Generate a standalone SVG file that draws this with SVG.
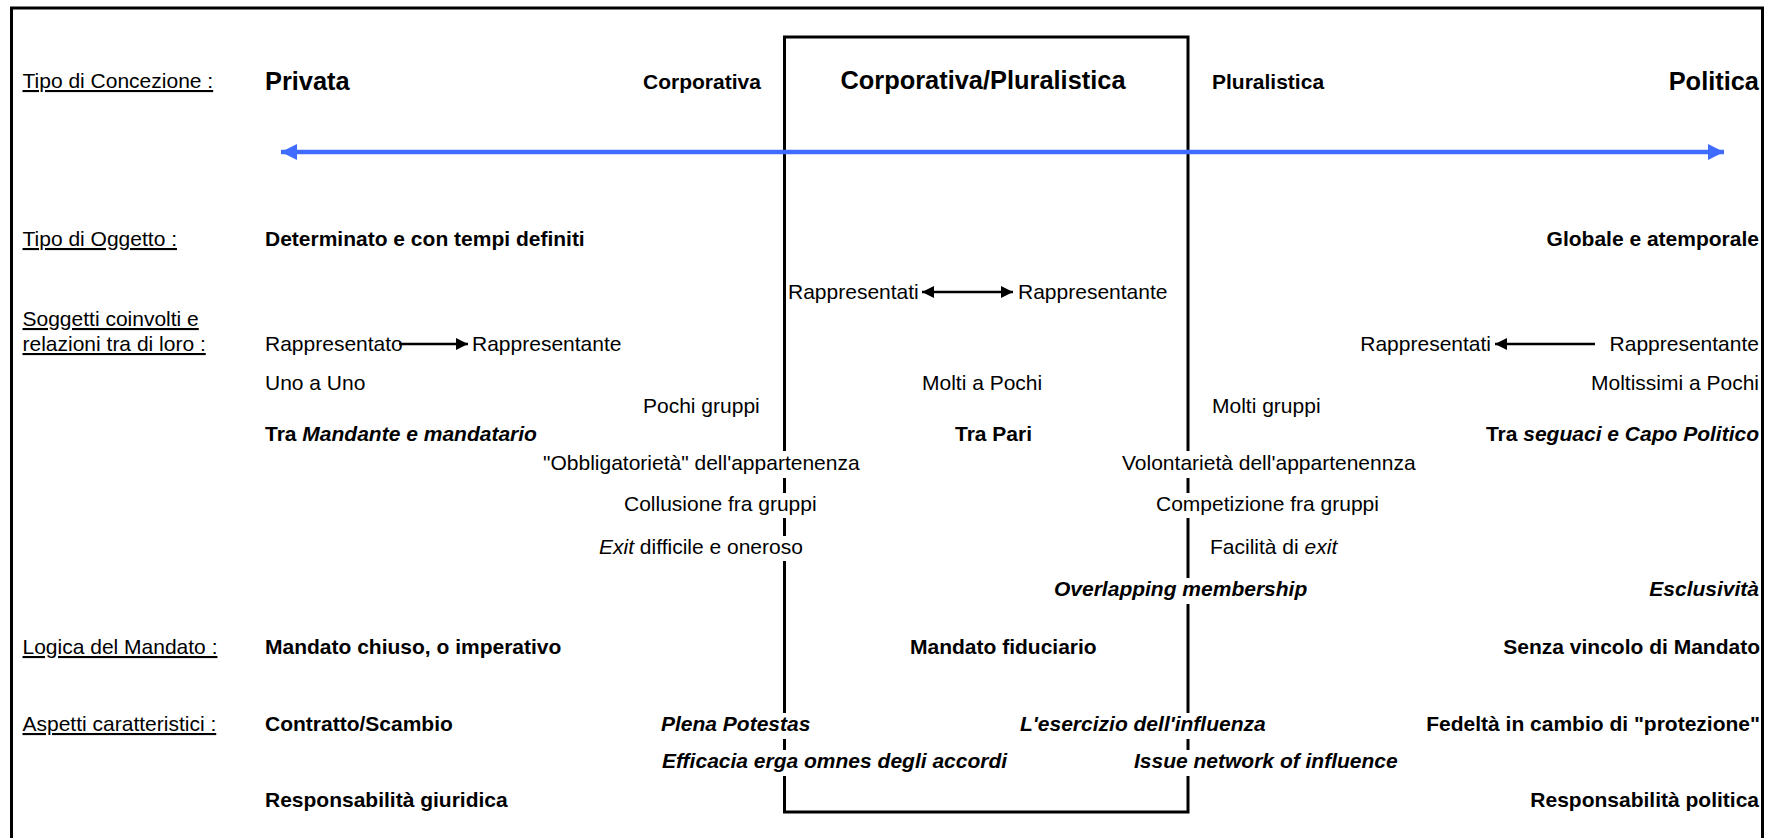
<svg xmlns="http://www.w3.org/2000/svg" width="1767" height="838" viewBox="0 0 1767 838">
<style>
text{font-family:'Liberation Sans',Arial,sans-serif;font-size:21px;fill:#000}
.b{font-weight:bold}
.i{font-style:italic}
.u{text-decoration:underline}
.big{font-size:25.4px;font-weight:bold}
.e{text-anchor:end}
.gap{fill:#fff;stroke:none}
.ln{stroke:#000;stroke-width:2.3;fill:none}
</style>
<defs>
<marker id="ab" viewBox="0 0 10 10" refX="10" refY="5" markerWidth="13" markerHeight="12" markerUnits="userSpaceOnUse" orient="auto-start-reverse"><path d="M0,0 L10,5 L0,10 Z" fill="#000"/></marker>
<marker id="abl" viewBox="0 0 10 10" refX="10" refY="5" markerWidth="16" markerHeight="16" markerUnits="userSpaceOnUse" orient="auto-start-reverse"><path d="M0,0 L10,5 L0,10 Z" fill="#3F6BFF"/></marker>
</defs>
<rect x="0" y="0" width="1767" height="838" fill="#fff"/>
<rect id="border" x="11.5" y="8" width="1751" height="845" fill="none" stroke="#000" stroke-width="3"/>
<g id="box">
<rect x="784.5" y="37" width="403.5" height="775" fill="none" stroke="#000" stroke-width="3"/>
<rect class="gap" x="778" y="451" width="13" height="27"/>
<rect class="gap" x="778" y="493" width="13" height="25"/>
<rect class="gap" x="778" y="536" width="13" height="25"/>
<rect class="gap" x="778" y="713" width="13" height="26"/>
<rect class="gap" x="778" y="750" width="13" height="26"/>
<rect class="gap" x="1182" y="451" width="13" height="27"/>
<rect class="gap" x="1182" y="493" width="13" height="25"/>
<rect class="gap" x="1182" y="578" width="13" height="26"/>
<rect class="gap" x="1182" y="713" width="13" height="26"/>
<rect class="gap" x="1182" y="750" width="13" height="26"/>
</g>
<g id="connectors">
<line x1="281" y1="152" x2="1724" y2="152" stroke="#3F6BFF" stroke-width="4.5" marker-start="url(#abl)" marker-end="url(#abl)"/>
<line class="ln" x1="922" y1="292" x2="1013" y2="292" marker-start="url(#ab)" marker-end="url(#ab)"/>
<line class="ln" x1="399" y1="344" x2="468" y2="344" marker-end="url(#ab)"/>
<line class="ln" x1="1595" y1="344" x2="1495" y2="344" marker-end="url(#ab)"/>
</g>
<g id="row-labels">
<text class="u" x="22.5" y="88">Tipo di Concezione :</text>
<text class="u" x="22.5" y="246">Tipo di Oggetto :</text>
<text class="u" x="22.5" y="326">Soggetti coinvolti e</text>
<text class="u" x="22.5" y="351">relazioni tra di loro :</text>
<text class="u" x="22.5" y="654">Logica del Mandato :</text>
<text class="u" x="22.5" y="731">Aspetti caratteristici :</text>
</g>
<g id="concezione">
<text class="big" x="265" y="90">Privata</text>
<text class="b" x="643" y="89">Corporativa</text>
<text class="big" x="983" y="89" text-anchor="middle">Corporativa/Pluralistica</text>
<text class="b" x="1212" y="89">Pluralistica</text>
<text class="big e" x="1759" y="90">Politica</text>
</g>
<g id="oggetto">
<text class="b" x="265" y="246">Determinato e con tempi definiti</text>
<text class="b e" x="1759" y="246">Globale e atemporale</text>
</g>
<g id="soggetti">
<text x="788" y="299">Rappresentati</text>
<text x="1018" y="299">Rappresentante</text>
<text x="265" y="351">Rappresentato</text>
<text x="472" y="351">Rappresentante</text>
<text class="e" x="1491" y="351">Rappresentati</text>
<text class="e" x="1759" y="351">Rappresentante</text>
<text x="265" y="390">Uno a Uno</text>
<text x="922" y="390">Molti a Pochi</text>
<text class="e" x="1759" y="390">Moltissimi a Pochi</text>
<text x="643" y="413">Pochi gruppi</text>
<text x="1212" y="413">Molti gruppi</text>
<text class="b" x="265" y="441">Tra <tspan class="i">Mandante e mandatario</tspan></text>
<text class="b" x="955" y="441">Tra Pari</text>
<text class="b e" x="1759" y="441">Tra <tspan class="i">seguaci e Capo Politico</tspan></text>
<text x="543" y="470">"Obbligatorietà" dell'appartenenza</text>
<text x="1122" y="470">Volontarietà dell'appartenennza</text>
<text x="624" y="511">Collusione fra gruppi</text>
<text x="1156" y="511">Competizione fra gruppi</text>
<text x="599" y="554"><tspan class="i">Exit</tspan> difficile e oneroso</text>
<text x="1210" y="554">Facilità di <tspan class="i">exit</tspan></text>
<text class="b i" x="1054" y="596">Overlapping membership</text>
<text class="b i e" x="1759" y="596">Esclusività</text>
</g>
<g id="mandato">
<text class="b" x="265" y="654">Mandato chiuso, o imperativo</text>
<text class="b" x="910" y="654">Mandato fiduciario</text>
<text class="b e" x="1760" y="654">Senza vincolo di Mandato</text>
</g>
<g id="aspetti">
<text class="b" x="265" y="731">Contratto/Scambio</text>
<text class="b i" x="661" y="731">Plena Potestas</text>
<text class="b i" x="1020" y="731">L'esercizio dell'influenza</text>
<text class="b e" x="1760" y="731">Fedeltà in cambio di "protezione"</text>
<text class="b i" x="662" y="768">Efficacia erga omnes degli accordi</text>
<text class="b i" x="1134" y="768">Issue network of influence</text>
<text class="b" x="265" y="807">Responsabilità giuridica</text>
<text class="b e" x="1759" y="807">Responsabilità politica</text>
</g>
</svg>
